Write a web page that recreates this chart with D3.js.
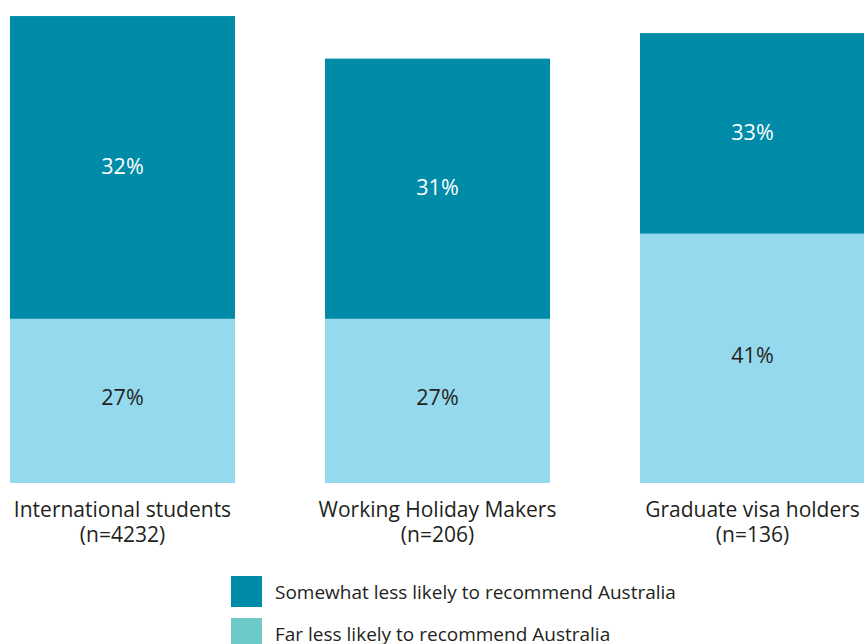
<!DOCTYPE html>
<html>
<head>
<meta charset="utf-8">
<script src="https://cdn.jsdelivr.net/npm/d3@7"></script>
<style>
  body { margin: 0; background: #fff; }
  svg { display: block; font-family: "Open Sans", sans-serif; }
</style>
</head>
<body>
<svg id="chart"></svg>
<script>
// categories and sample sizes
const groups = ['International students', 'Working Holiday Makers', 'Graduate visa holders'];
const sampleSizes = ['(n=4232)', '(n=206)', '(n=136)'];

// segment heights as drawn in the picture (same units as the percentage scale)
const farLess = [27, 27, 41];
const somewhatLess = [49.8, 42.8, 33];

// printed labels
const farLabels = ['27%', '27%', '41%'];
const somewhatLabels = ['32%', '31%', '33%'];

const legendItems = ['Somewhat less likely to recommend Australia', 'Far less likely to recommend Australia'];
const legendColors = ['#008ca8', '#6dcac6'];

const width = 864, height = 644;

const svg = d3.select('#chart')
  .attr('width', width)
  .attr('height', height);

const x = d3.scaleBand()
  .domain(groups)
  .range([10, 865])
  .paddingInner(90 / 315)
  .paddingOuter(0);

const y = d3.scaleLinear()
  .domain([0, 100])
  .range([483, -125]);

const data = groups.map((g, i) => ({
  group: g,
  n: sampleSizes[i],
  far: farLess[i],
  some: somewhatLess[i],
  farLabel: farLabels[i],
  someLabel: somewhatLabels[i]
}));

const bars = svg.selectAll('.bar')
  .data(data)
  .enter()
  .append('g')
  .attr('class', 'bar');

// lower segment
bars.append('rect')
  .attr('x', d => x(d.group))
  .attr('y', d => y(d.far))
  .attr('width', x.bandwidth())
  .attr('height', d => y(0) - y(d.far))
  .attr('fill', '#95d9ee');

// upper segment
bars.append('rect')
  .attr('x', d => x(d.group))
  .attr('y', d => y(d.far + d.some))
  .attr('width', x.bandwidth())
  .attr('height', d => y(d.far) - y(d.far + d.some))
  .attr('fill', '#008ca8');

bars.append('text')
  .attr('x', d => x(d.group) + x.bandwidth() / 2)
  .attr('y', d => (y(0) + y(d.far)) / 2 - 3)
  .attr('dy', '0.35em')
  .attr('text-anchor', 'middle')
  .style('font-size', '21.5px')
  .style('fill', '#231f20')
  .text(d => d.farLabel);

bars.append('text')
  .attr('x', d => x(d.group) + x.bandwidth() / 2)
  .attr('y', d => (y(d.far) + y(d.far + d.some)) / 2 - 1)
  .attr('dy', '0.35em')
  .attr('text-anchor', 'middle')
  .style('font-size', '21.5px')
  .style('fill', '#ffffff')
  .text(d => d.someLabel);

// category labels under the bars
bars.append('text')
  .attr('x', d => x(d.group) + x.bandwidth() / 2)
  .attr('y', 517)
  .attr('text-anchor', 'middle')
  .style('font-size', '21px')
  .style('fill', '#231f20')
  .text(d => d.group);

bars.append('text')
  .attr('x', d => x(d.group) + x.bandwidth() / 2)
  .attr('y', 542)
  .attr('text-anchor', 'middle')
  .style('font-size', '21px')
  .style('fill', '#231f20')
  .text(d => d.n);

// legend
const legend = svg.selectAll('.legend')
  .data(legendItems)
  .enter()
  .append('g')
  .attr('class', 'legend')
  .attr('transform', (d, i) => `translate(231, ${576 + i * 42})`);

legend.append('rect')
  .attr('width', 31)
  .attr('height', 31)
  .attr('fill', (d, i) => legendColors[i]);

legend.append('text')
  .attr('x', 44)
  .attr('y', 16)
  .attr('dy', '0.35em')
  .style('font-size', '19px')
  .style('fill', '#231f20')
  .text(d => d);
</script>
</body>
</html>
